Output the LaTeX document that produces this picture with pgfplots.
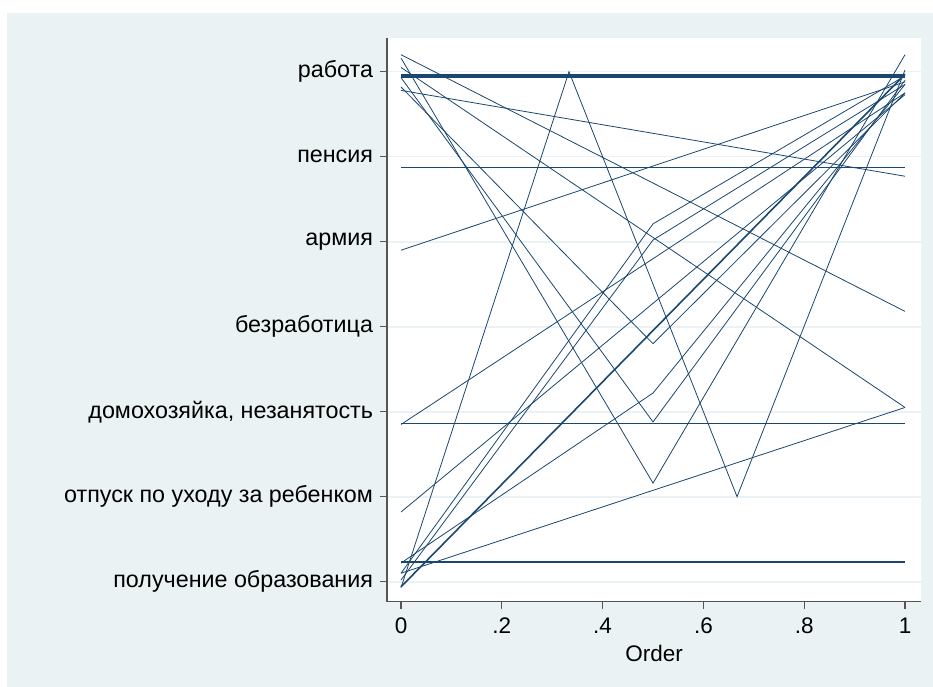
\documentclass[border=0pt]{standalone}
\usepackage{pgfplots}
\pgfplotsset{compat=1.18}
\usepackage{fontspec}
\setmainfont{Liberation Sans}

\definecolor{bgc}{RGB}{234,242,243}
\definecolor{navy}{RGB}{26,71,111}
\definecolor{axisgray}{RGB}{85,85,85}

\begin{document}
\begin{tikzpicture}[x=1bp,y=1bp]
% page and graph region
\path[fill=white] (0,0) rectangle (933,687);
\fill[bgc] (7,0) rectangle (933,674);
\begin{axis}[
  at={(387bp,85.3bp)}, anchor=south west,
  scale only axis, width=534bp, height=563.4bp,
  xmin=-0.0278, xmax=1.0317, ymin=0.765, ymax=7.393,
  axis background/.style={fill=white},
  axis x line*=bottom, axis y line*=left,
  axis line style={axisgray, line width=1.2bp},
  tick align=outside, major tick length=7bp,
  tick style={axisgray, line width=1.2bp},
  xtick={0,0.2,0.4,0.6,0.8,1},
  xticklabels={0,.2,.4,.6,.8,1},
  ytick={1,2,3,4,5,6,7},
  yticklabels={получение образования, отпуск по уходу за ребенком, {домохозяйка, незанятость}, безработица, армия, пенсия, работа},
  ymajorgrids, grid style={bgc, line width=1.6bp},
  xticklabel style={font=\fontsize{22.5bp}{26bp}\selectfont, yshift=-6bp},
  yticklabel style={font=\fontsize{23.3bp}{27bp}\selectfont, xshift=-3.5bp},
  /pgf/number format/assume math mode=true,
  xlabel={Order},
  xlabel style={font=\fontsize{22.5bp}{26bp}\selectfont, at={(axis description cs:0.5,0)}, anchor=north, yshift=-40bp},
  cycle list={{navy, solid, line width=0.8bp}},
  traj/.style={navy, solid, line width=0.8bp, no marks},
]
% trajectories: order position vs. status
\addplot[traj, line width=3.2bp] coordinates {(0,6.95) (1,6.95)};
\addplot[traj] coordinates {(0,5.87) (1,5.87)};
\addplot[traj] coordinates {(0,2.86) (1,2.86)};
\addplot[traj, line width=1.8bp] coordinates {(0,1.23) (1,1.23)};
\addplot[traj] coordinates {(0,4.90) (1,6.88)};
\addplot[traj] coordinates {(0,6.78) (1,5.77)};
\addplot[traj] coordinates {(0,7.20) (1,4.18)};
\addplot[traj] coordinates {(0,0.93) (0.3333,7.00) (0.6667,2.00) (1,7.02)};
\addplot[traj] coordinates {(0,7.05) (1,3.05)};
\addplot[traj] coordinates {(0,1.10) (1,3.05)};
\addplot[traj] coordinates {(0,1.10) (0.5,5.21) (1,6.95)};
\addplot[traj] coordinates {(0,6.82) (0.5,3.80) (1,6.75)};
\addplot[traj] coordinates {(0,6.93) (0.5,2.88) (1,6.90)};
\addplot[traj] coordinates {(0,7.16) (0.5,2.16) (1,7.20)};
\addplot[traj] coordinates {(0,1.22) (0.5,3.22) (1,6.85)};
\addplot[traj] coordinates {(0,2.85) (1,6.75)};
\addplot[traj, line width=1.6bp] coordinates {(0,0.94) (1,6.97)};
\addplot[traj] coordinates {(0,1.02) (0.5,5.02) (1,6.85)};
\addplot[traj] coordinates {(0,1.82) (1,6.73)};
\end{axis}
\end{tikzpicture}
\end{document}
